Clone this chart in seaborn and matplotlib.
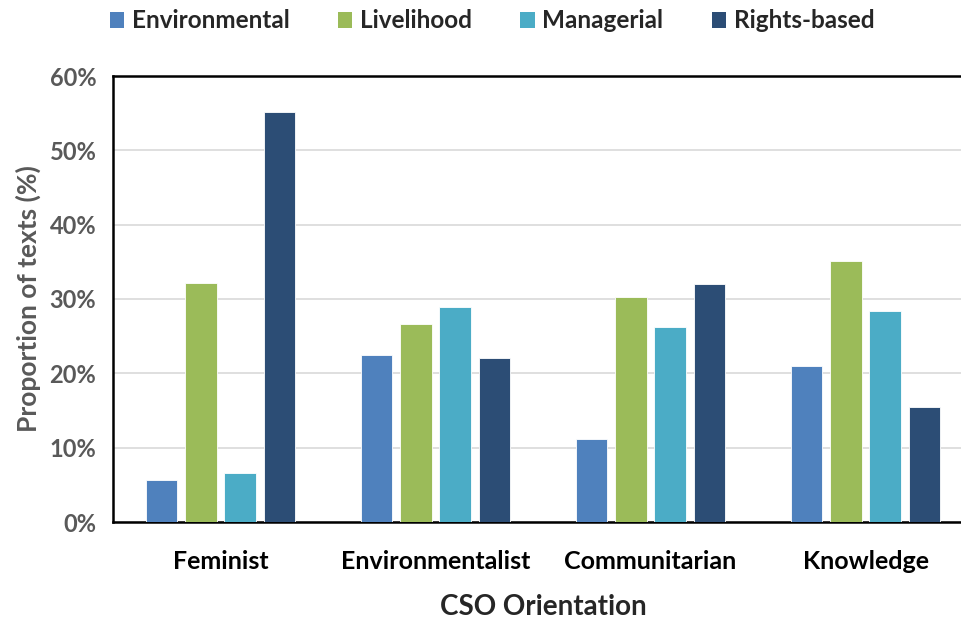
import seaborn as sns
import matplotlib.pyplot as plt
import pandas as pd
from matplotlib.patches import Patch
from matplotlib.ticker import PercentFormatter

orientations = ["Feminist", "Environmentalist", "Communitarian", "Knowledge"]
frames = ["Environmental", "Livelihood", "Managerial", "Rights-based"]

# proportion of texts (%) per frame, in orientation order
environmental = [5.7, 22.4, 11.1, 21.0]
livelihood = [32.1, 26.7, 30.3, 35.1]
managerial = [6.6, 28.9, 26.3, 28.4]
rights_based = [55.1, 22.0, 32.0, 15.5]

colors = ["#4F81BD", "#9BBB59", "#4BACC6", "#2C4D75"]

rows = []
for frame, vals in zip(frames, [environmental, livelihood, managerial, rights_based]):
    for o, v in zip(orientations, vals):
        rows.append({"orientation": o, "frame": frame, "value": v})
df = pd.DataFrame(rows)

sns.set_style("white")
plt.rcParams["font.family"] = ["Lato", "DejaVu Sans"]

fig = plt.figure(figsize=(9.61, 6.19), dpi=100)
ax = fig.add_axes([113 / 961, 1 - 522 / 619, 860 / 961, 446 / 619])

sns.barplot(data=df, x="orientation", y="value", hue="frame",
            order=orientations, hue_order=frames, palette=colors,
            width=0.73, gap=0.2, saturation=1, errorbar=None,
            edgecolor="white", linewidth=0.6, ax=ax, zorder=3)

ax.set_xlim(-0.5, 3.5)
ax.set_ylim(0, 60)
ax.set_yticks(range(0, 61, 10))
ax.yaxis.set_major_formatter(PercentFormatter(decimals=0))
ax.grid(axis="y", color="#D9D9D9", linewidth=1.2, zorder=0)
ax.set_axisbelow(True)
for s in ax.spines.values():
    s.set_color("black")
    s.set_linewidth(1.8)

ax.tick_params(axis="y", labelsize=17, labelcolor="#595959", length=0, pad=12)
ax.tick_params(axis="x", labelsize=18, labelcolor="black", length=0, pad=20)
for lab in ax.get_yticklabels() + ax.get_xticklabels():
    lab.set_fontweight("bold")

ax.set_xlabel("CSO Orientation", fontsize=20, fontweight="bold", labelpad=15)
ax.set_ylabel("Proportion of texts (%)", fontsize=19, fontweight="bold",
              color="#595959", labelpad=6)

ax.get_legend().remove()
handles = [Patch(facecolor=c, edgecolor="none") for c in colors]
fig.legend(handles, frames, loc="center", bbox_to_anchor=(492 / 961, 1 - 21 / 619),
           ncol=4, frameon=False, handlelength=0.6, handleheight=0.6,
           handletextpad=0.3, columnspacing=2.0,
           prop={"size": 17.5, "weight": "bold"})

fig.savefig("out.png", dpi=100)
